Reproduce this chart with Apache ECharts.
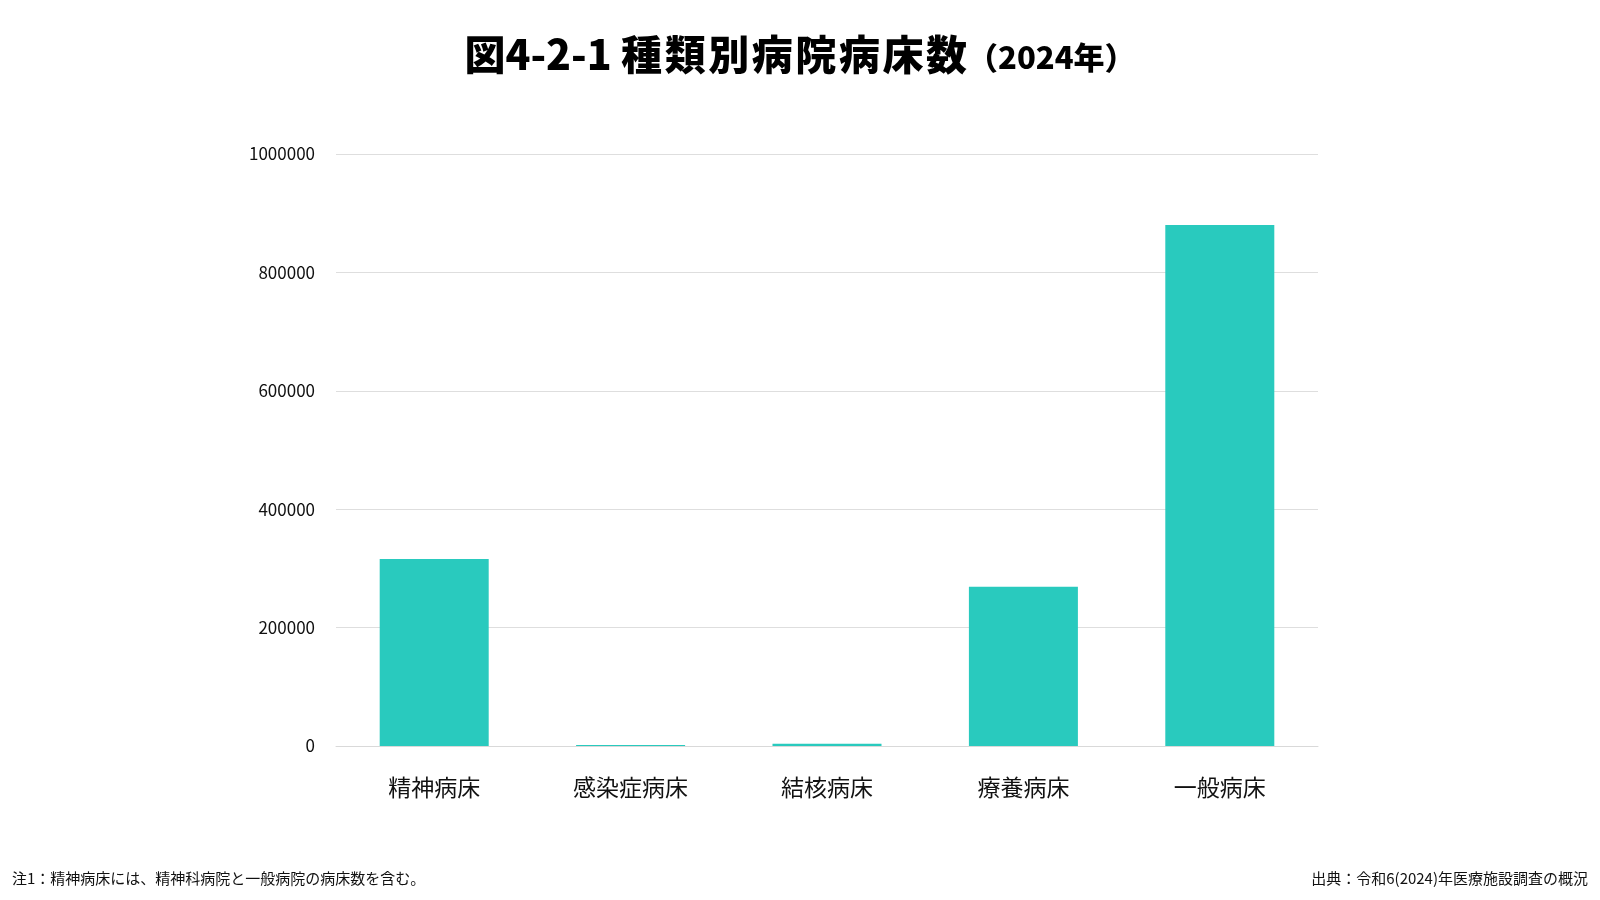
<!DOCTYPE html>
<html lang="ja">
<head>
    <meta charset="UTF-8">
    <title>種類別病院病床数</title>
    <script src="https://cdn.jsdelivr.net/npm/echarts@6/dist/echarts.min.js"></script>
    <style>
        html, body { margin: 0; padding: 0; background: #fff; }
    </style>
</head>
<body>
<div id="main" style="width: 1600px;height:900px;"></div>
</body>

<script type="text/javascript">

    var categories = ['精神病床', '感染症病床', '結核病床', '療養病床', '一般病床'];
    var bedCounts = [316000, 1900, 3800, 269000, 880000];
    var yTicks = [0, 200000, 400000, 600000, 800000, 1000000];

    var font = '"Noto Sans CJK JP", "Noto Sans", sans-serif';
    var myChart = echarts.init(document.getElementById('main'));

    // 見出しの漢字は少し字間を空ける（hair space）
    var hs = '\u200A';
    var titleMain = '図4-2-1 ' + '種類別病院病床数'.split('').join(hs);

    var option = {
        backgroundColor: '#ffffff',
        textStyle: { fontFamily: font },
        title: {
            text: '{main|' + titleMain + '}{sub|（2024年）}',
            left: 'center',
            top: 29,
            textStyle: {
                rich: {
                    main: { fontFamily: font, fontSize: 41, fontWeight: 900, color: '#000' },
                    sub: { fontFamily: font, fontSize: 31, fontWeight: 900, color: '#000', padding: [6, 0, 0, 0] }
                }
            }
        },
        grid: {
            left: 336,
            right: 282,
            top: 154,
            bottom: 154
        },
        xAxis: {
            type: 'category',
            data: categories,
            axisLine: { lineStyle: { color: '#d9d9d9' } },
            axisTick: { show: false },
            axisLabel: { fontSize: 23, color: '#111', margin: 30 }
        },
        yAxis: {
            type: 'value',
            min: yTicks[0],
            max: yTicks[yTicks.length - 1],
            interval: 200000,
            axisLine: { show: false },
            axisTick: { show: false },
            axisLabel: {
                fontSize: 17,
                color: '#111',
                margin: 21,
                formatter: function (v) { return String(v); }
            },
            splitLine: { lineStyle: { color: '#dedede' } }
        },
        series: [
            {
                name: '病床数',
                type: 'bar',
                data: bedCounts,
                barWidth: '55.5%',
                itemStyle: { color: '#29cabe' }
            }
        ],
        graphic: [
            {
                type: 'text',
                left: 12,
                top: 871,
                style: { text: '注1：精神病床には、精神科病院と一般病院の病床数を含む。', font: '15px ' + font, fill: '#111' }
            },
            {
                type: 'text',
                right: 12,
                top: 871,
                style: { text: '出典：令和6(2024)年医療施設調査の概況', font: '15px ' + font, fill: '#111' }
            }
        ]
    };

    myChart.setOption(option);

</script>
</html>
